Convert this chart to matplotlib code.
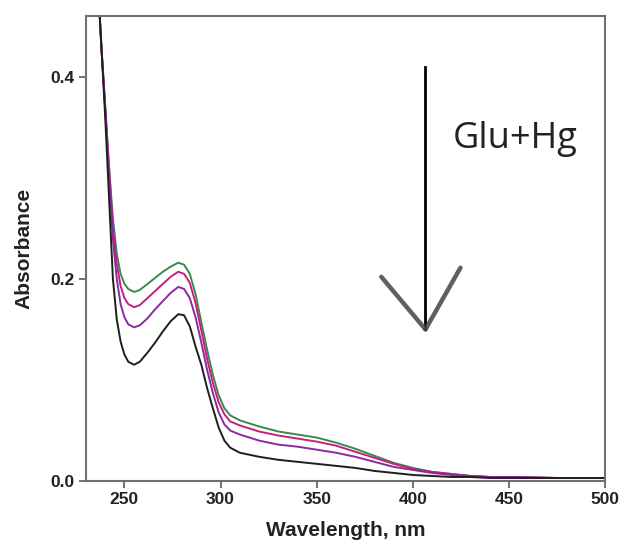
import matplotlib
matplotlib.use('Agg')
import matplotlib.pyplot as plt

# wavelength grid (nm) and absorbance
wavelength = [236, 238, 240, 242, 244, 246, 248, 250, 252, 255, 258, 262, 266, 270,
              274, 278, 281, 284, 287, 290, 293, 296, 299, 302, 305, 310, 315, 320,
              330, 340, 350, 360, 370, 380, 390, 400, 410, 420, 430, 440, 450, 475, 500]

green = [0.50, 0.43, 0.37, 0.31, 0.26, 0.225, 0.205, 0.195, 0.19, 0.187, 0.189, 0.195,
         0.201, 0.207, 0.212, 0.216, 0.214, 0.205, 0.185, 0.157, 0.13, 0.105, 0.085,
         0.072, 0.065, 0.060, 0.057, 0.054, 0.049, 0.046, 0.043, 0.038, 0.032, 0.025,
         0.018, 0.013, 0.009, 0.007, 0.005, 0.004, 0.004, 0.003, 0.003]

pink = [0.50, 0.43, 0.37, 0.31, 0.25, 0.215, 0.193, 0.181, 0.175, 0.172, 0.174, 0.181,
        0.188, 0.195, 0.202, 0.207, 0.205, 0.196, 0.176, 0.149, 0.121, 0.097, 0.078,
        0.066, 0.059, 0.055, 0.052, 0.049, 0.045, 0.042, 0.039, 0.035, 0.029, 0.023,
        0.017, 0.012, 0.009, 0.007, 0.005, 0.004, 0.004, 0.003, 0.003]

purple = [0.50, 0.43, 0.37, 0.30, 0.24, 0.20, 0.175, 0.162, 0.155, 0.152, 0.154, 0.161,
          0.170, 0.178, 0.186, 0.192, 0.190, 0.181, 0.162, 0.137, 0.110, 0.087, 0.068,
          0.056, 0.050, 0.046, 0.043, 0.040, 0.036, 0.034, 0.031, 0.028, 0.024, 0.019,
          0.014, 0.011, 0.008, 0.006, 0.005, 0.004, 0.004, 0.003, 0.003]

black = [0.50, 0.43, 0.36, 0.28, 0.20, 0.16, 0.138, 0.125, 0.118, 0.115, 0.118, 0.127,
         0.137, 0.148, 0.158, 0.165, 0.164, 0.153, 0.133, 0.115, 0.092, 0.072, 0.053,
         0.040, 0.033, 0.028, 0.026, 0.024, 0.021, 0.019, 0.017, 0.015, 0.013, 0.010,
         0.008, 0.006, 0.005, 0.004, 0.004, 0.003, 0.003, 0.003, 0.003]

series = [('#3a8a4c', green), ('#c4207c', pink), ('#8a2aa0', purple), ('#1e1e1e', black)]

x_ticks = [250, 300, 350, 400, 450, 500]
y_ticks = [0.0, 0.2, 0.4]

plt.rcParams['font.family'] = ['Liberation Sans', 'DejaVu Sans']

fig = plt.figure(figsize=(6.24, 5.57), dpi=100)
ax = fig.add_axes([0.1378, 0.1364, 0.8318, 0.8349])

for color, vals in series:
    ax.plot(wavelength, vals, color=color, lw=1.4)

# arrow: shaft and hand-drawn head
ax.plot([406.6, 406.6], [0.41, 0.15], color='black', lw=2.0)
ax.plot([383.6, 406.6], [0.202, 0.15], color='#444444', lw=3.2, alpha=0.85,
        solid_capstyle='round')
ax.plot([424.8, 406.6], [0.211, 0.15], color='#444444', lw=3.2, alpha=0.85,
        solid_capstyle='round')
ax.text(421, 0.338, 'Glu+Hg', fontsize=26, family=['Open Sans', 'DejaVu Sans'],
        color='#222222', va='center', ha='left')

ax.set_xlim(230, 500)
ax.set_ylim(0, 0.46)
ax.set_xticks(x_ticks)
ax.set_yticks(y_ticks)
ax.set_xticklabels([str(t) for t in x_ticks], fontsize=12.5, fontweight='bold', color='#222222')
ax.set_yticklabels(['%.1f' % t for t in y_ticks], fontsize=12.5, fontweight='bold', color='#222222')
ax.tick_params(direction='out', length=5, width=1.3, color='#666666', pad=3)

for s in ax.spines.values():
    s.set_color('#707070')
    s.set_linewidth(1.5)

ax.set_xlabel('Wavelength, nm', fontsize=15, fontweight='bold', color='#222222', labelpad=10)
ax.set_ylabel('Absorbance', fontsize=15, fontweight='bold', color='#222222', labelpad=12)

fig.savefig('out.png', dpi=100)
